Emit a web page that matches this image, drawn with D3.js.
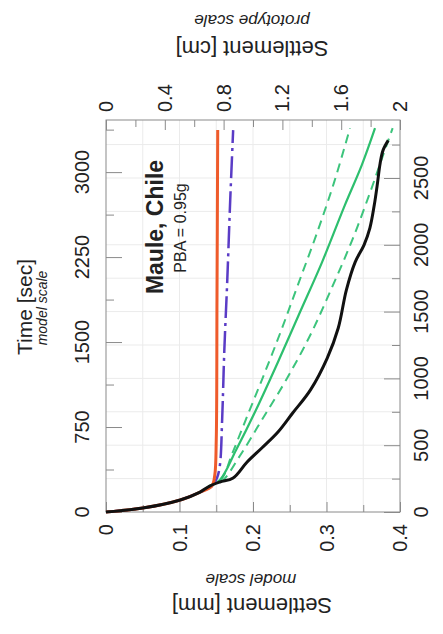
<!DOCTYPE html>
<html>
<head>
<meta charset="utf-8">
<script src="https://cdn.jsdelivr.net/npm/d3@7"></script>
<style>
  body { margin: 0; background: #fff; }
  text { font-family: "Liberation Sans", Arial, sans-serif; fill: #222; }
</style>
</head>
<body>
<svg id="chart" width="443" height="634"></svg>
<script>
// time [sec] model scale / settlement [mm] model scale
const measuredT = [0, 35, 106, 176, 229, 265, 300, 441, 565, 706, 874, 1076, 1359, 1624, 1959, 2206, 2356, 2506, 2709, 2885, 3079, 3194, 3280];
const measuredS = [0, 0.050, 0.101, 0.128, 0.141, 0.155, 0.173, 0.192, 0.212, 0.234, 0.254, 0.278, 0.301, 0.316, 0.327, 0.339, 0.351, 0.359, 0.365, 0.369, 0.373, 0.377, 0.384];

const meanT = [0, 35, 106, 176, 229, 282, 547, 900, 1324, 1765, 2206, 2709, 3062, 3388];
const meanS = [0, 0.050, 0.101, 0.128, 0.141, 0.155, 0.177, 0.204, 0.234, 0.264, 0.294, 0.325, 0.348, 0.366];

const lowT = [0, 35, 106, 176, 229, 300, 503, 812, 1165, 1579, 2003, 2444, 2903, 3388];
const lowS = [0, 0.050, 0.101, 0.128, 0.141, 0.158, 0.171, 0.190, 0.212, 0.237, 0.261, 0.286, 0.310, 0.332];

const highT = [0, 35, 106, 176, 229, 274, 494, 812, 1165, 1562, 1976, 2400, 2815, 3150, 3388];
const highS = [0, 0.050, 0.101, 0.128, 0.141, 0.158, 0.182, 0.212, 0.245, 0.278, 0.307, 0.335, 0.359, 0.377, 0.390];

const orangeT = [0, 35, 106, 176, 229, 326, 635, 1871, 3371];
const orangeS = [0, 0.050, 0.101, 0.128, 0.144, 0.148, 0.150, 0.151, 0.152];

const blueT = [0, 35, 106, 176, 229, 300, 415, 812, 1429, 2047, 2753, 3371];
const blueS = [0, 0.050, 0.101, 0.128, 0.144, 0.151, 0.155, 0.158, 0.161, 0.165, 0.169, 0.173];

const timeTicks = [0, 750, 1500, 2250, 3000];
const timeMinor = [375, 1125, 1875, 2625, 3375];
const protoTimeTicks = [0, 500, 1000, 1500, 2000, 2500];
const protoTimeMinor = [250, 750, 1250, 1750, 2250, 2750];
const settleTicks = [0, 0.1, 0.2, 0.3, 0.4];
const settleMinor = [0.05, 0.15, 0.25, 0.35];
const protoSettleTicks = [0, 0.4, 0.8, 1.2, 1.6, 2];
const protoSettleMinor = [0.2, 0.6, 1.0, 1.4, 1.8];

const frame = {left: 106, right: 400, top: 120, bottom: 512};

const svg = d3.select("#chart");

// figure is turned: settlement runs left->right, time runs bottom->top
const x = d3.scaleLinear().domain([0, 0.4]).range([frame.left, frame.right]);
const xTop = d3.scaleLinear().domain([0, 2]).range([frame.left, frame.right]);
const y = d3.scaleLinear().domain([0, 3460]).range([frame.bottom, frame.top]);
const yR = d3.scaleLinear().domain([0, 2934]).range([frame.bottom, frame.top]);

// grid
svg.append("g")
  .selectAll("line")
  .data(settleMinor.concat(settleTicks.slice(1, -1)))
  .join("line")
  .attr("x1", d => x(d)).attr("x2", d => x(d))
  .attr("y1", frame.top).attr("y2", frame.bottom)
  .attr("stroke", "#ebebeb");
svg.append("g")
  .selectAll("line")
  .data(protoTimeMinor.concat(protoTimeTicks.slice(1)))
  .join("line")
  .attr("y1", d => yR(d)).attr("y2", d => yR(d))
  .attr("x1", frame.left).attr("x2", frame.right)
  .attr("stroke", "#ebebeb");

// ticks (pointing inside)
function ticks(axis, vals, size, tx, ty) {
  const g = svg.append("g")
    .attr("transform", `translate(${tx},${ty})`)
    .call(axis.tickValues(vals).tickSize(-size).tickSizeOuter(0).tickFormat(""));
  g.select(".domain").remove();
  g.selectAll("line").attr("stroke", "#8a8a8a");
}
ticks(d3.axisLeft(y), timeTicks, 16, frame.left, 0);
ticks(d3.axisLeft(y), timeMinor, 8, frame.left, 0);
ticks(d3.axisRight(yR), protoTimeTicks, 16, frame.right, 0);
ticks(d3.axisRight(yR), protoTimeMinor, 8, frame.right, 0);
ticks(d3.axisBottom(x), settleTicks, 10, 0, frame.bottom);
ticks(d3.axisBottom(x), settleMinor, 7, 0, frame.bottom);
ticks(d3.axisTop(xTop), protoSettleTicks, 10, 0, frame.top);
ticks(d3.axisTop(xTop), protoSettleMinor, 7, 0, frame.top);

svg.append("rect")
  .attr("x", frame.left).attr("y", frame.top)
  .attr("width", frame.right - frame.left).attr("height", frame.bottom - frame.top)
  .attr("fill", "none").attr("stroke", "#8a8a8a");

// tick labels, all turned -90
function labels(vals, px, py, anchor, fmt) {
  svg.append("g")
    .selectAll("text")
    .data(vals)
    .join("text")
    .attr("transform", d => `translate(${px(d)},${py(d)}) rotate(-90)`)
    .attr("text-anchor", anchor)
    .attr("dominant-baseline", "central")
    .style("font-size", "20px")
    .text(fmt);
}
labels(timeTicks, () => 82, d => y(d), "middle", d => d);
labels(protoTimeTicks, () => 421, d => yR(d), "middle", d => d);
labels(settleTicks, d => x(d), () => 524, "end", d => d === 0 ? "0" : d.toFixed(1));
labels(protoSettleTicks, d => xTop(d), () => 112, "start", d => d);

// axis titles
function title(str, tx, ty, rot, size, style, weight) {
  svg.append("text")
    .attr("transform", `translate(${tx},${ty}) rotate(${rot})`)
    .attr("text-anchor", "middle")
    .attr("dominant-baseline", "central")
    .style("font-size", size + "px")
    .style("font-style", style || "normal")
    .style("font-weight", weight || "normal")
    .text(str);
}
title("Time [sec]", 24, 307, -90, 21);
title("model scale", 42, 308, -90, 14, "italic");
title("Settlement [cm]", 252, 48, 180, 22);
title("prototype scale", 252, 20, 180, 17, "italic");
title("Settlement [mm]", 252, 605, 180, 22);
title("model scale", 251, 579, 180, 17, "italic");
title("Maule, Chile", 155, 227, -90, 23, "normal", "bold");
title("PBA = 0.95g", 180, 228, -90, 16);

// series
const line = d3.line()
  .x(d => x(d[1]))
  .y(d => y(d[0]))
  .curve(d3.curveCatmullRom.alpha(0.5));

const plot = svg.append("g");
function series(t, s, color, width, dash) {
  plot.append("path")
    .datum(d3.zip(t, s))
    .attr("d", line)
    .attr("fill", "none")
    .attr("stroke", color)
    .attr("stroke-width", width)
    .attr("stroke-dasharray", dash || null)
    .attr("stroke-linejoin", "round");
}
series(lowT, lowS, "#3cc47c", 2, "9,6");
series(highT, highS, "#3cc47c", 2, "9,6");
series(meanT, meanS, "#2dbf6e", 2.2);
series(blueT, blueS, "#5a3cc6", 2.5, "22,5,3,5");
series(orangeT, orangeS, "#ef5b2b", 3);
series(measuredT, measuredS, "#111", 3);
</script>
</body>
</html>
